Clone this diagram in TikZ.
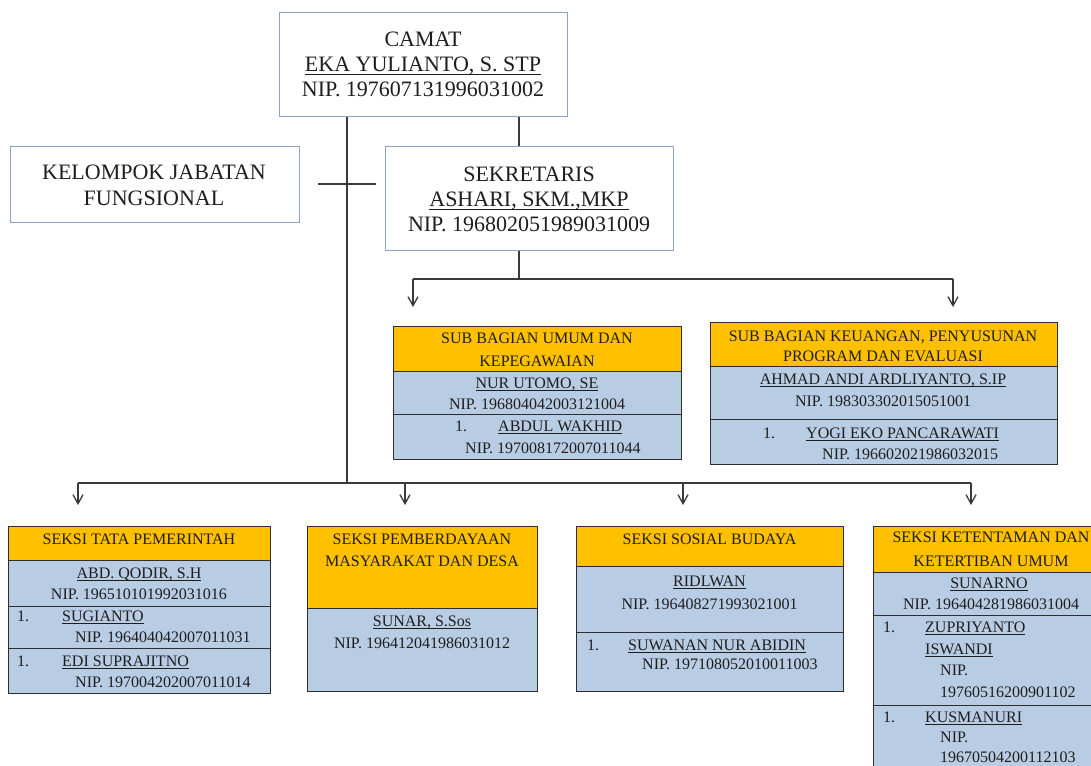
\documentclass[tikz,border=0pt]{standalone}
\usepackage{fontspec}
\setmainfont{Liberation Serif}
\usetikzlibrary{arrows.meta}
\definecolor{orng}{HTML}{FFC000}
\definecolor{bluef}{HTML}{B8CCE4}
\definecolor{topline}{HTML}{8EA3C0}
\definecolor{cline}{HTML}{3A3A3A}
\definecolor{bline}{HTML}{2E2E2E}
\definecolor{ink}{HTML}{1E1E1E}
\newcommand{\ulsm}[1]{\setbox0\hbox{#1}\rlap{\rule[-2.4pt]{\wd0}{0.9pt}}\box0}
\newcommand{\ulbg}[1]{\setbox0\hbox{#1}\rlap{\rule[-3.2pt]{\wd0}{1.1pt}}\box0}
\begin{document}
\begin{tikzpicture}[x=1pt,y=-1pt,
 topbox/.style={draw=topline,line width=1.2pt,fill=white,anchor=north west,inner sep=0},
 hdr/.style={draw=bline,line width=1.3pt,fill=orng,anchor=north west,inner sep=0},
 rowbox/.style={draw=bline,line width=1.3pt,fill=bluef,anchor=north west,inner sep=0},
 big/.style={font=\fontsize{22}{25}\selectfont,text=ink,inner sep=0,anchor=base},
 sm/.style={font=\fontsize{16}{19}\selectfont,text=ink,inner sep=0,anchor=base},
 sml/.style={sm,anchor=base west},
 conn/.style={draw=cline,line width=1.3pt},
 arr/.style={conn,-{Straight Barb[length=9pt,width=10pt]}}
]
\useasboundingbox[fill=white] (0,0) rectangle (1091,765);

% ---------- top boxes ----------
\node[topbox,minimum width=288,minimum height=104] (camat) at (279,12) {};
\node[big] (camat1) at (423,46.5) {CAMAT};
\node[big] (camat2) at (423,71.5) {\ulbg{EKA YULIANTO, S. STP}};
\node[big] (camat3) at (423,96.5) {NIP. 197607131996031002};

\node[topbox,minimum width=288,minimum height=104] (sek) at (385,146) {};
\node[big] (sek1) at (529,181.5) {SEKRETARIS};
\node[big] (sek2) at (529,206.5) {\ulbg{ASHARI, SKM.,MKP}};
\node[big] (sek3) at (529,231.5) {NIP. 196802051989031009};

\node[topbox,minimum width=289,minimum height=76] (kjf) at (10,146) {};
\node[big] (kjf1) at (154,179.5) {KELOMPOK JABATAN};
\node[big] (kjf2) at (154,205) {FUNGSIONAL};

% ---------- connectors ----------
\coordinate (jx) at (519,0);
\coordinate (vx) at (347,0);
\coordinate (kl) at (318,184);
\coordinate (kr) at (376,184);
\coordinate (b1) at (519,279);
\coordinate (b1l) at (413,279);
\coordinate (b1r) at (953,279);
\coordinate (a1) at (413,307);
\coordinate (a2) at (953,307);
\coordinate (b2) at (347,483);
\coordinate (b2a) at (78,483);
\coordinate (b2b) at (405,483);
\coordinate (b2c) at (683,483);
\coordinate (b2d) at (971,483);
\coordinate (t1) at (78,505);
\coordinate (t2) at (405,505);
\coordinate (t3) at (683,505);
\coordinate (t4) at (971,505);

\draw[conn] (camat.south -| jx) -- (sek.north -| jx);
\draw[conn] (camat.south -| vx) -- (b2);
\draw[conn] (kl) -- (kr);
\draw[conn] (sek.south -| jx) -- (b1);
\draw[conn] (b1l) -- (b1r);
\draw[arr] (b1l) -- (a1);
\draw[arr] (b1r) -- (a2);
\draw[conn] (b2a) -- (b2d);
\draw[arr] (b2a) -- (t1);
\draw[arr] (b2b) -- (t2);
\draw[arr] (b2c) -- (t3);
\draw[arr] (b2d) -- (t4);

% ---------- Sub Bagian Umum ----------
\node[hdr,minimum width=288,minimum height=45] (umh) at (393,326) {};
\node[rowbox,minimum width=288,minimum height=43] (um1) at (393,371) {};
\node[rowbox,minimum width=288,minimum height=45] (um2) at (393,414) {};
\node[sm] (umt1) at (537,343) {SUB BAGIAN UMUM DAN};
\node[sm] (umt2) at (537,366) {KEPEGAWAIAN};
\node[sm] (umt3) at (537,388) {\ulsm{NUR UTOMO, SE}};
\node[sm] (umt4) at (537,409) {NIP. 196804042003121004};
\node[sml] (umt5) at (455,431.5) {1.};
\node[sml] (umt6) at (498,431.5) {\ulsm{ABDUL WAKHID}};
\node[sml] (umt7) at (465,453) {NIP. 197008172007011044};

% ---------- Sub Bagian Keuangan ----------
\node[hdr,minimum width=347,minimum height=44] (kuh) at (710,322) {};
\node[rowbox,minimum width=347,minimum height=53] (ku1) at (710,366) {};
\node[rowbox,minimum width=347,minimum height=45] (ku2) at (710,419) {};
\node[sm] (kut1) at (883,341.5) {SUB BAGIAN KEUANGAN, PENYUSUNAN};
\node[sm] (kut2) at (883,361.5) {PROGRAM DAN EVALUASI};
\node[sm] (kut3) at (883,384) {\ulsm{AHMAD ANDI ARDLIYANTO, S.IP}};
\node[sm] (kut4) at (883,406.5) {NIP. 198303302015051001};
\node[sml] (kut5) at (763,438) {1.};
\node[sml] (kut6) at (806,438) {\ulsm{YOGI EKO PANCARAWATI}};
\node[sml] (kut7) at (822,459) {NIP. 196602021986032015};

% ---------- Seksi Tata Pemerintah ----------
\node[hdr,minimum width=262,minimum height=34] (tph) at (8,526) {};
\node[rowbox,minimum width=262,minimum height=46] (tp1) at (8,560) {};
\node[rowbox,minimum width=262,minimum height=42] (tp2) at (8,606) {};
\node[rowbox,minimum width=262,minimum height=45] (tp3) at (8,648) {};
\node[sm] (tpt1) at (139,544) {SEKSI TATA PEMERINTAH};
\node[sm] (tpt2) at (139,578) {\ulsm{ABD. QODIR, S.H}};
\node[sm] (tpt3) at (139,599) {NIP. 196510101992031016};
\node[sml] (tpt4) at (17,621.5) {1.};
\node[sml] (tpt5) at (62,621.5) {\ulsm{SUGIANTO}};
\node[sml] (tpt6) at (75,642) {NIP. 196404042007011031};
\node[sml] (tpt7) at (17,666.5) {1.};
\node[sml] (tpt8) at (62,666.5) {\ulsm{EDI SUPRAJITNO}};
\node[sml] (tpt9) at (75,687) {NIP. 197004202007011014};

% ---------- Seksi Pemberdayaan ----------
\node[hdr,minimum width=230,minimum height=82] (pmh) at (307,526) {};
\node[rowbox,minimum width=230,minimum height=83] (pm1) at (307,608) {};
\node[sm] (pmt1) at (422,544) {SEKSI PEMBERDAYAAN};
\node[sm] (pmt2) at (422,566.5) {MASYARAKAT DAN DESA};
\node[sm] (pmt3) at (422,626) {\ulsm{SUNAR, S.Sos}};
\node[sm] (pmt4) at (422,648) {NIP. 196412041986031012};

% ---------- Seksi Sosial Budaya ----------
\node[hdr,minimum width=267,minimum height=40] (sbh) at (576,526) {};
\node[rowbox,minimum width=267,minimum height=66] (sb1) at (576,566) {};
\node[rowbox,minimum width=267,minimum height=59] (sb2) at (576,632) {};
\node[sm] (sbt1) at (709.5,544) {SEKSI SOSIAL BUDAYA};
\node[sm] (sbt2) at (709.5,586.5) {\ulsm{RIDLWAN}};
\node[sm] (sbt3) at (709.5,609) {NIP. 196408271993021001};
\node[sml] (sbt4) at (587,650) {1.};
\node[sml] (sbt5) at (628,650) {\ulsm{SUWANAN NUR ABIDIN}};
\node[sml] (sbt6) at (642,669) {NIP. 197108052010011003};

% ---------- Seksi Ketentaman ----------
\node[hdr,minimum width=237,minimum height=46] (kth) at (873,526) {};
\node[rowbox,minimum width=237,minimum height=43] (kt1) at (873,572) {};
\node[rowbox,minimum width=237,minimum height=90] (kt2) at (873,615) {};
\node[rowbox,minimum width=237,minimum height=80] (kt3) at (873,705) {};
\node[sm] (ktt1) at (991,542) {SEKSI KETENTAMAN DAN};
\node[sm] (ktt2) at (991,566) {KETERTIBAN UMUM};
\node[sm] (ktt3) at (989,588) {\ulsm{SUNARNO}};
\node[sm] (ktt4) at (991,609) {NIP. 196404281986031004};
\node[sml] (ktt5) at (883,632) {1.};
\node[sml] (ktt6) at (925,632) {\ulsm{ZUPRIYANTO}};
\node[sml] (ktt7) at (925,654) {\ulsm{ISWANDI}};
\node[sml] (ktt8) at (940,675) {NIP.};
\node[sml] (ktt9) at (940,697) {19760516200901102};
\node[sml] (ktt10) at (883,722) {1.};
\node[sml] (ktt11) at (925,722) {\ulsm{KUSMANURI}};
\node[sml] (ktt12) at (940,742) {NIP.};
\node[sml] (ktt13) at (940,762) {19670504200112103};
\end{tikzpicture}
\end{document}
